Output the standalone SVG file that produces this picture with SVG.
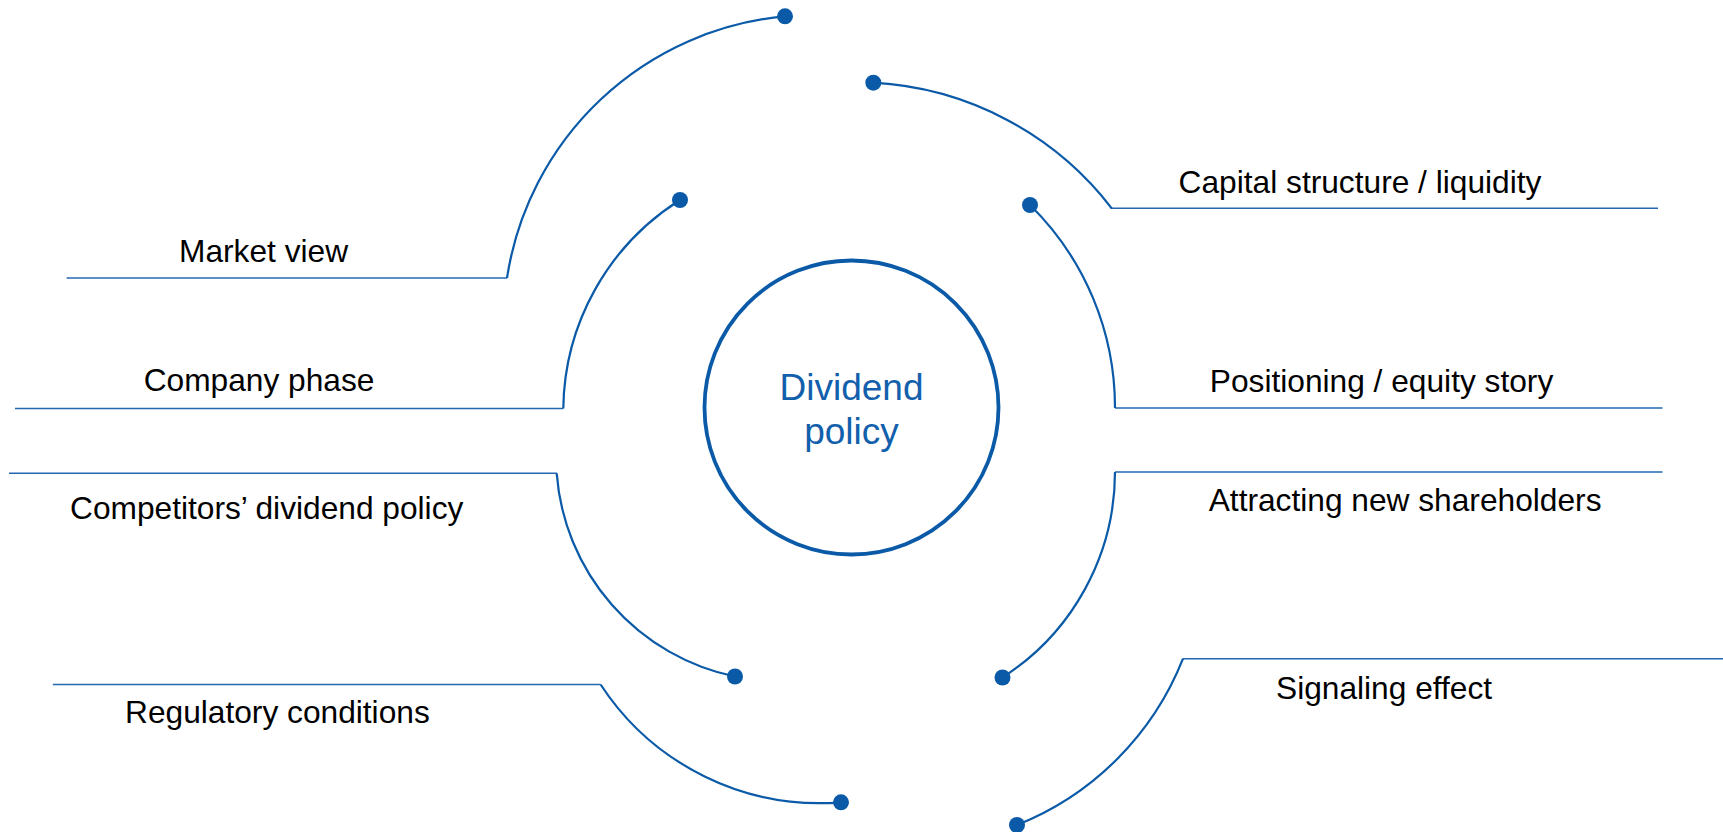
<svg xmlns="http://www.w3.org/2000/svg" width="1723" height="832" viewBox="0 0 1723 832">
  <style>
    .lbl { font-family: "Liberation Sans", Arial, sans-serif; font-size: 31.7px; fill: #000000; }
    .ctr { font-family: "Liberation Sans", Arial, sans-serif; font-size: 37px; fill: #1260AC; text-anchor: middle; }
    .arc { fill: none; stroke: #0A5AA8; stroke-width: 2.2; }
    .hl { fill: none; stroke: #2468B0; stroke-width: 1.6; }
    .dot { fill: #0A5AA8; }
  </style>
  <rect width="1723" height="832" fill="#ffffff"/>

  <g id="connectors">
    <!-- Market view -->
    <line class="hl" x1="66.6" y1="278" x2="507" y2="278"/>
    <path class="arc" d="M 507 278 A 310 310 0 0 1 785 16.3"/>
    <circle class="dot" cx="785" cy="16.3" r="8"/>
    <!-- Capital structure / liquidity -->
    <line class="hl" x1="1110.7" y1="208.3" x2="1658" y2="208.3"/>
    <path class="arc" d="M 873.3 82.7 A 323 323 0 0 1 1111.7 208.3"/>
    <circle class="dot" cx="873.3" cy="82.7" r="8"/>
    <!-- Company phase -->
    <line class="hl" x1="15" y1="408.5" x2="563.3" y2="408.5"/>
    <path class="arc" d="M 680 200 A 250 250 0 0 0 563.3 408.5"/>
    <circle class="dot" cx="680" cy="200" r="8"/>
    <!-- Positioning / equity story -->
    <line class="hl" x1="1115" y1="408" x2="1662.5" y2="408"/>
    <path class="arc" d="M 1030 205 A 284 284 0 0 1 1115 408"/>
    <circle class="dot" cx="1030" cy="205" r="8"/>
    <!-- Competitors' dividend policy -->
    <line class="hl" x1="9" y1="473.3" x2="557" y2="473.3"/>
    <path class="arc" d="M 556.7 473.3 A 224.6 224.6 0 0 0 735 676.5"/>
    <circle class="dot" cx="735" cy="676.5" r="8"/>
    <!-- Attracting new shareholders -->
    <line class="hl" x1="1115" y1="472" x2="1662.5" y2="472"/>
    <path class="arc" d="M 1115 472 A 244.5 244.5 0 0 1 1002.5 677.5"/>
    <circle class="dot" cx="1002.5" cy="677.5" r="8"/>
    <!-- Regulatory conditions -->
    <line class="hl" x1="52.8" y1="684.5" x2="600.6" y2="684.5"/>
    <path class="arc" d="M 600.6 684.5 A 262 262 0 0 0 841 802.3"/>
    <circle class="dot" cx="841" cy="802.3" r="8"/>
    <!-- Signaling effect -->
    <line class="hl" x1="1183" y1="658.7" x2="1723" y2="658.7"/>
    <path class="arc" d="M 1183 658.7 A 296 296 0 0 1 1017 825"/>
    <circle class="dot" cx="1017" cy="825" r="8"/>
  </g>

  <g id="node-center">
    <circle cx="851.5" cy="407.5" r="147" fill="none" stroke="#0A5AA8" stroke-width="3.8"/>
    <text class="ctr" x="851.5" y="399.5">Dividend</text>
    <text class="ctr" x="851.5" y="444">policy</text>
  </g>
  <g id="node-market-view"><text class="lbl" x="179" y="262">Market view</text></g>
  <g id="node-capital-structure"><text class="lbl" x="1178.6" y="193">Capital structure / liquidity</text></g>
  <g id="node-company-phase"><text class="lbl" x="143.7" y="390.5">Company phase</text></g>
  <g id="node-positioning"><text class="lbl" x="1209.8" y="392.3">Positioning / equity story</text></g>
  <g id="node-competitors"><text class="lbl" x="70" y="518.7">Competitors’ dividend policy</text></g>
  <g id="node-attracting"><text class="lbl" x="1208.7" y="511">Attracting new shareholders</text></g>
  <g id="node-regulatory"><text class="lbl" x="125" y="723.3">Regulatory conditions</text></g>
  <g id="node-signaling"><text class="lbl" x="1276" y="699.3">Signaling effect</text></g>
</svg>
